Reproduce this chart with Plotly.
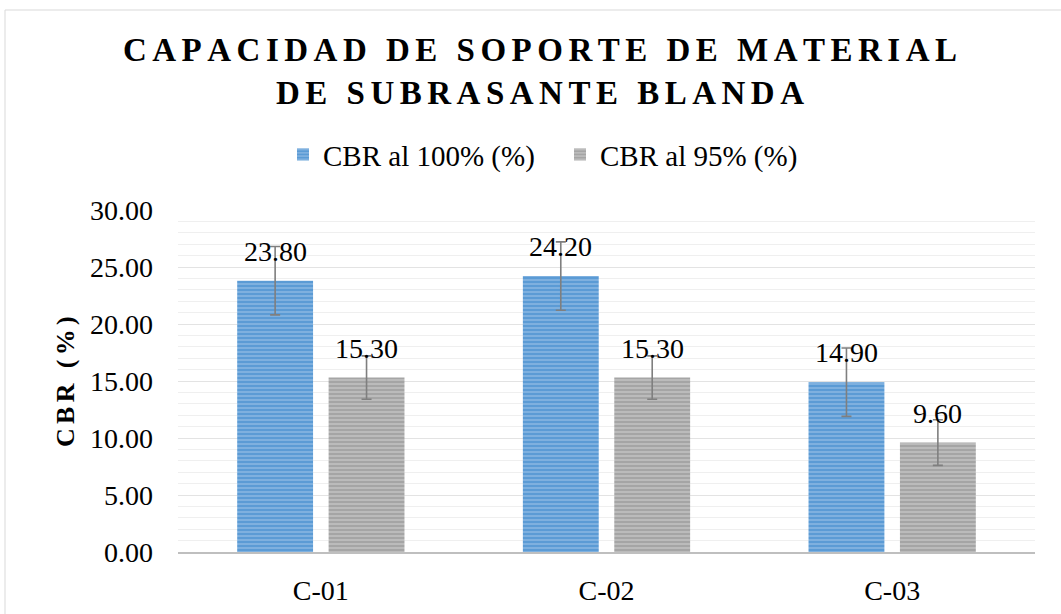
import plotly.graph_objects as go

categories = ["C-01", "C-02", "C-03"]
cbr100 = [23.80, 24.20, 14.90]
cbr95 = [15.30, 15.30, 9.60]
err100 = [3.0, 3.0, 3.0]
err95 = [1.9, 1.9, 2.0]
series_names = ["CBR al 100% (%)", "CBR al 95% (%)"]
y_ticks = [0, 5, 10, 15, 20, 25, 30]
title_lines = ["CAPACIDAD DE SOPORTE DE MATERIAL", "DE SUBRASANTE BLANDA"]
y_title = "CBR (%)"

serif = "Liberation Serif, Times New Roman, serif"
SP = "\u2006"  # six-per-em space used for letter spacing


def spaced(s):
    return SP.join(s)


fig = go.Figure()
series = [
    (cbr100, err100, series_names[0], "#5B9BD5", "#A9CBEB"),
    (cbr95, err95, series_names[1], "#A5A5A5", "#D6D6D6"),
]
for vals, errs, name, bg, fg in series:
    fig.add_trace(go.Bar(
        x=categories, y=vals, name=name,
        marker=dict(color=bg, line=dict(width=0),
                    pattern=dict(shape="-", fgcolor=fg, bgcolor=bg,
                                 size=4, solidity=0.45, fillmode="overlay")),
        error_y=dict(type="data", array=errs, visible=True, color="#7F7F7F",
                     thickness=1.6, width=5),
    ))

# value labels above the bars
slot_px = 45.75
for k, (vals, errs, name, bg, fg) in enumerate(series):
    for cat, v in zip(categories, vals):
        fig.add_annotation(
            x=cat, y=v, xref="x", yref="y",
            xshift=-slot_px if k == 0 else slot_px, yshift=12,
            yanchor="bottom", xanchor="center", showarrow=False,
            text=f"{v:.2f}", font=dict(family=serif, size=28, color="black"),
        )

fig.add_annotation(
    x=(65 - 178) / 857, y=0.5, xref="paper", yref="paper",
    xanchor="center", yanchor="middle", showarrow=False, textangle=-90,
    text=f"<b>{spaced(y_title)}</b>", font=dict(family=serif, size=26, color="black"),
)

fig.update_layout(
    width=1061, height=614,
    paper_bgcolor="white", plot_bgcolor="white",
    margin=dict(l=178, r=26, t=210, b=62, autoexpand=False),
    barmode="group", bargap=0.36, bargroupgap=0.17,
    font=dict(family=serif, size=28, color="black"),
    title=dict(
        text="<b>" + "<br>".join(spaced(t) for t in title_lines) + "</b>",
        x=540 / 1061, xanchor="center", y=0.900, yanchor="middle",
        font=dict(family=serif, size=33, color="black"),
    ),
    legend=dict(orientation="h", x=(283 - 178) / 857, xanchor="left",
                y=1.162, yanchor="middle",
                font=dict(family=serif, size=29), itemwidth=30,
                entrywidth=232, traceorder="normal"),
    showlegend=True,
)
fig.update_yaxes(
    range=[0, 30], tickvals=y_ticks, ticktext=[f"{v:.2f}" for v in y_ticks],
    showgrid=True, gridcolor="#E3E3E3", gridwidth=1,
    minor=dict(dtick=1, showgrid=True, gridcolor="#EFEFEF", gridwidth=1),
    zeroline=False, showline=False, ticks="", ticklen=0, automargin=False,
    tickfont=dict(family=serif, size=28), ticklabelstandoff=24,
)
fig.update_xaxes(
    showline=True, linecolor="#BFBFBF", linewidth=2, automargin=False,
    tickfont=dict(family=serif, size=28), ticks="", ticklabelstandoff=12,
)
fig.add_shape(type="rect", xref="paper", yref="paper",
              x0=-173 / 857, x1=1.1, y0=-1, y1=(552 - 10) / 342,
              line=dict(color="#D9D9D9", width=1), fillcolor="rgba(0,0,0,0)",
              layer="below")

fig.write_html("out.html", config={"displayModeBar": False},
               post_script="document.body.style.margin='0px';")
